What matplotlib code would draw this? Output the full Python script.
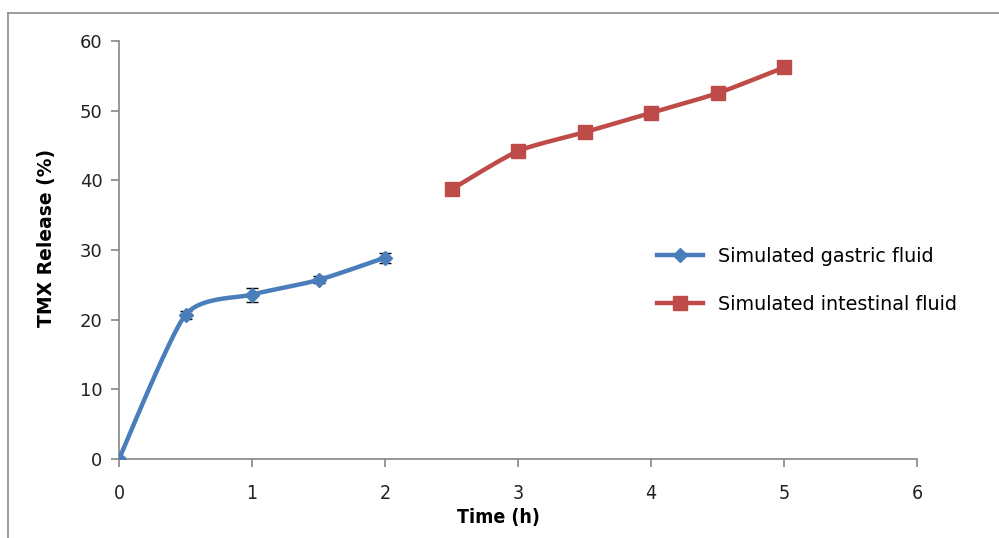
import numpy as np
import matplotlib
matplotlib.use("Agg")
import matplotlib.pyplot as plt
from matplotlib.lines import Line2D

# ---- data ----
gastric_time = [0, 0.5, 1, 1.5, 2]
gastric_release = [0.0, 20.7, 23.6, 25.7, 28.9]
gastric_err = [0.3, 0.6, 1.0, 0.5, 0.7]

intestinal_time = [2.5, 3, 3.5, 4, 4.5, 5]
intestinal_release = [38.7, 44.2, 46.9, 49.7, 52.5, 56.2]
intestinal_err = [0.5, 0.9, 0.6, 0.8, 0.8, 0.5]

x_ticks = [0, 1, 2, 3, 4, 5, 6]
y_ticks = [0, 10, 20, 30, 40, 50, 60]

blue = "#4A7EBB"
red = "#BE4B48"
axis_gray = "#868686"


def smooth(xs, ys, sx=133.0, sy=6.967, n=30, k=9.0):
    """Excel-like smoothed line (cubic Bezier through the points)."""
    P = np.column_stack([np.asarray(xs, float) * sx, np.asarray(ys, float) * sy])
    out = [P[0]]
    for i in range(len(P) - 1):
        p0 = P[i - 1] if i > 0 else P[i]
        p1 = P[i]
        p2 = P[i + 1]
        p3 = P[i + 2] if i + 2 < len(P) else P[i + 1]
        c1 = p1 + (p2 - p0) / k
        c2 = p2 - (p3 - p1) / k
        t = np.linspace(0, 1, n)[1:, None]
        b = ((1 - t) ** 3) * p1 + 3 * ((1 - t) ** 2) * t * c1 + 3 * (1 - t) * t ** 2 * c2 + t ** 3 * p2
        out.extend(b)
    out = np.array(out)
    return out[:, 0] / sx, out[:, 1] / sy


fig = plt.figure(figsize=(9.99, 5.38), dpi=100)
ax = fig.add_axes([119 / 999, 1 - 459 / 538, (917 - 119) / 999, (459 - 41) / 538])

# gastric
gx, gy = smooth(gastric_time, gastric_release)
ax.plot(gx, gy, color=blue, lw=3.2, solid_capstyle="round", zorder=3)
ax.errorbar(gastric_time, gastric_release, yerr=gastric_err, fmt="none",
            ecolor="black", elinewidth=1.0, capsize=4, capthick=1.0, zorder=2)
ax.plot(gastric_time, gastric_release, linestyle="none", marker="D", ms=7.5,
        color=blue, mec=blue, zorder=4)

# intestinal
ix, iy = smooth(intestinal_time, intestinal_release)
ax.plot(ix, iy, color=red, lw=3.2, solid_capstyle="round", zorder=3)
ax.errorbar(intestinal_time, intestinal_release, yerr=intestinal_err, fmt="none",
            ecolor="black", elinewidth=1.0, capsize=4, capthick=1.0, zorder=2)
ax.plot(intestinal_time, intestinal_release, linestyle="none", marker="s", ms=10,
        color=red, mec=red, zorder=4)

ax.set_xlim(0, 6)
ax.set_ylim(0, 60)
ax.set_xticks(x_ticks)
ax.set_yticks(y_ticks)
ax.set_xticklabels([str(v) for v in x_ticks],
                   fontdict={"family": ["DejaVu Sans"], "size": 14, "stretch": "condensed"})
ax.set_yticklabels([str(v) for v in y_ticks],
                   fontdict={"family": ["DejaVu Sans"], "size": 13})
for s in ["top", "right"]:
    ax.spines[s].set_visible(False)
for s in ["left", "bottom"]:
    ax.spines[s].set_color(axis_gray)
    ax.spines[s].set_linewidth(1.2)
ax.tick_params(axis="both", color=axis_gray, length=6, width=1.2, labelcolor="#222222")
ax.tick_params(axis="x", pad=12)
ax.tick_params(axis="y", pad=6)

ax.set_xlabel("Time (h)", fontsize=14, fontweight="bold",
              family=["DejaVu Sans"], stretch="condensed")
ax.xaxis.set_label_coords((498 - 119) / 798, -(508 - 459) / 418)
ax.set_ylabel("TMX Release (%)", fontsize=13.5, fontweight="bold")
ax.yaxis.set_label_coords(-(119 - 56) / 798, (459 - 238) / 418)

handles = [
    Line2D([0], [0], color=blue, lw=3.2, marker="D", ms=7.5),
    Line2D([0], [0], color=red, lw=3.2, marker="s", ms=10),
]
ax.legend(handles, ["Simulated gastric fluid", "Simulated intestinal fluid"],
          loc="upper left", bbox_to_anchor=(0.652, 0.548), frameon=False,
          handlelength=2.4, handletextpad=0.8, labelspacing=1.5,
          prop={"size": 13.8})

# outer frame (top and left edges visible)
fig.add_artist(Line2D([8 / 999, 8 / 999], [0, 1 - 13 / 538], color="#8c8c8c", lw=1.2,
                      transform=fig.transFigure))
fig.add_artist(Line2D([8 / 999, 1], [1 - 13 / 538, 1 - 13 / 538], color="#8c8c8c", lw=1.2,
                      transform=fig.transFigure))

fig.savefig("out.png", dpi=100)
